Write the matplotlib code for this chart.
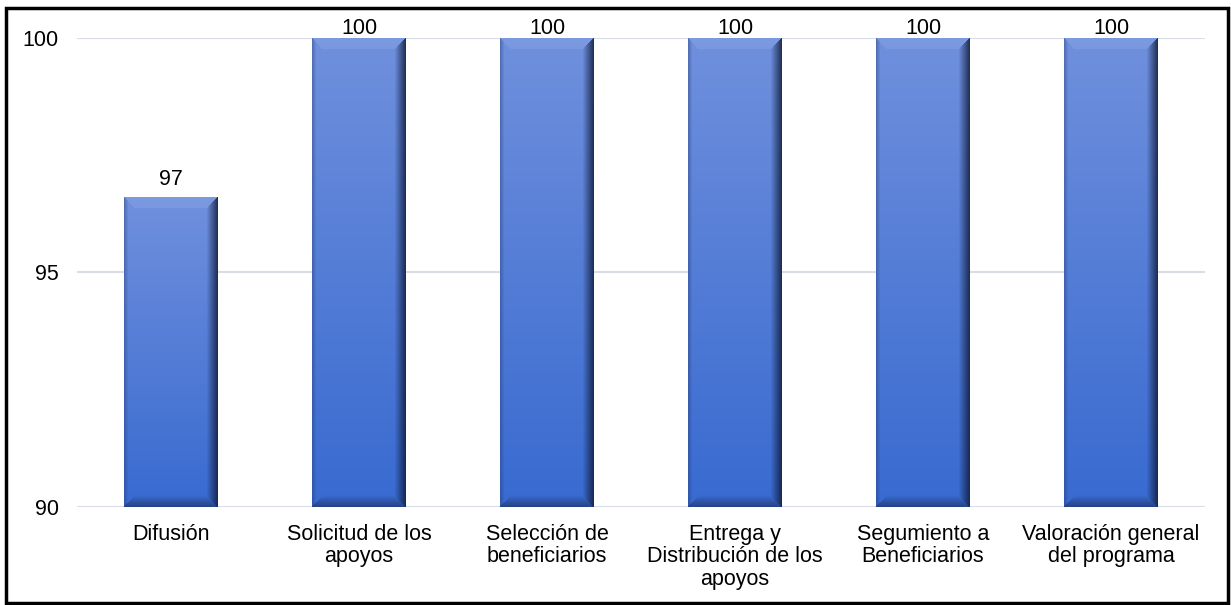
import numpy as np
import matplotlib
matplotlib.use("Agg")
import matplotlib.pyplot as plt
from matplotlib.patches import Rectangle

plt.rcParams['font.family'] = ['Liberation Sans', 'DejaVu Sans']

categorias = ['Difusión', 'Solicitud de los\napoyos', 'Selección de\nbeneficiarios',
              'Entrega y\nDistribución de los\napoyos', 'Segumiento a\nBeneficiarios',
              'Valoración general\ndel programa']
valores = [96.6, 100, 100, 100, 100, 100]
etiquetas = ['97', '100', '100', '100', '100', '100']
yticks = [90, 95, 100]

FS = 15.5
W, H = 1231, 605
fig = plt.figure(figsize=(W / 100, H / 100), dpi=100)
ax = fig.add_axes([77 / W, 1 - 507 / H, (1205 - 77) / W, (507 - 38) / H])
ax.set_xlim(-0.5, len(categorias) - 0.5)
ax.set_ylim(90, 100)

x = np.arange(len(categorias))
bars = ax.bar(x, valores, width=0.5, color='#3F6ED0', zorder=2)

ax.set_yticks(yticks)
ax.set_xticks(x)
ax.set_xticklabels(categorias, fontsize=FS, linespacing=1.1)
ax.tick_params(axis='y', length=0, pad=13, labelsize=FS)
ax.tick_params(axis='x', length=0, pad=12)
ax.grid(axis='y', color='#D9DEE6', lw=1.5, zorder=0)
for s in ax.spines.values():
    s.set_visible(False)

fig.canvas.draw()
px_per_unit = ax.bbox.height / 10.0


def bevel_image(w, h, b=11):
    img = np.zeros((h, w, 3))
    top = np.array([112, 144, 221]) / 255
    bot = np.array([56, 106, 208]) / 255
    for i in range(h):
        t = i / max(h - 1, 1)
        img[i, :, :] = top * (1 - t) + bot * t
    ii, jj = np.mgrid[0:h, 0:w]
    dt = ii
    db = h - 1 - ii
    dl = jj
    dr = w - 1 - jj
    dmin = np.minimum(np.minimum(dt, db), np.minimum(dl, dr))
    # top bevel: lighter
    m = (dt == dmin) & (dt < b)
    img[m] = img[m] * 0.7 + np.array([150, 175, 232]) / 255 * 0.3
    # right bevel: dark gradient
    m = (dr == dmin) & (dr < b)
    f = (1 - dr[m] / b)[:, None]
    img[m] = img[m] * (1 - 0.8 * f) + np.array([15, 25, 55]) / 255 * 0.8 * f
    # bottom bevel
    m = (db == dmin) & (db < b) & ~((dr == dmin) & (dr < b))
    f = (1 - db[m] / b)[:, None]
    img[m] = img[m] * (1 - 0.6 * f) + np.array([25, 40, 90]) / 255 * 0.6 * f
    # left bevel
    m = (dl == dmin) & (dl < 4)
    f = (1 - dl[m] / 4)[:, None]
    img[m] = img[m] * (1 - 0.35 * f) + np.array([30, 50, 100]) / 255 * 0.35 * f
    return np.clip(img, 0, 1)


for bar in bars:
    x0 = bar.get_x()
    x1 = x0 + bar.get_width()
    y0 = max(bar.get_y(), 90)
    y1 = bar.get_height()
    wpx = int(round(ax.bbox.width * bar.get_width() / 6.0))
    hpx = int(round((y1 - y0) * px_per_unit))
    ax.imshow(bevel_image(wpx, hpx), extent=(x0, x1, y0, y1), aspect='auto',
              zorder=3, interpolation='bilinear')
    bar.set_visible(False)

ax.set_xlim(-0.5, len(categorias) - 0.5)
ax.set_ylim(90, 100)

for xi, v, lab in zip(x, valores, etiquetas):
    yl = min(v + 18 / px_per_unit, 100 + 9 / px_per_unit)
    ax.text(xi, yl, lab, ha='center', va='center', fontsize=FS, clip_on=False)

fig.patches.append(Rectangle((6 / W, 1 - 603 / H), (1228 - 6) / W, (603 - 8) / H,
                             transform=fig.transFigure, fill=False, lw=2.5,
                             edgecolor='black'))

fig.savefig('out.png', dpi=100)
